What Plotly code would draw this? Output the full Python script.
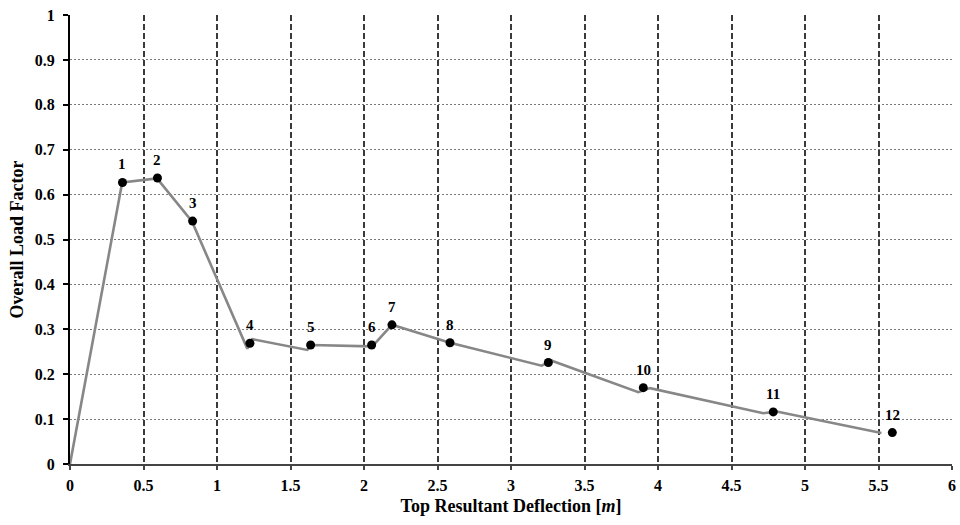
import plotly.graph_objects as go

# Curve (load–deflection path)
curve_x = [0, 0.355, 0.592, 0.83, 1.206, 1.240, 1.614, 1.644, 2.045, 2.07, 2.14, 2.19,
           2.585, 3.208, 3.277, 3.866, 3.946, 4.716, 4.807, 5.52]
curve_y = [0, 0.627, 0.636, 0.54, 0.257, 0.278, 0.254, 0.265, 0.262, 0.267, 0.292, 0.31,
           0.27, 0.219, 0.230, 0.160, 0.169, 0.113, 0.117, 0.069]

# Labelled points
pt_x = [0.357, 0.595, 0.834, 1.224, 1.637, 2.052, 2.19, 2.585, 3.254, 3.90, 4.784, 5.594]
pt_y = [0.627, 0.637, 0.541, 0.269, 0.265, 0.265, 0.31, 0.270, 0.226, 0.170, 0.116, 0.070]
pt_labels = [str(i) for i in range(1, 13)]

x_ticks = [0, 0.5, 1, 1.5, 2, 2.5, 3, 3.5, 4, 4.5, 5, 5.5, 6]
y_ticks = [0, 0.1, 0.2, 0.3, 0.4, 0.5, 0.6, 0.7, 0.8, 0.9, 1]

FONT = "Liberation Serif"

fig = go.Figure()
fig.add_trace(go.Scatter(x=curve_x, y=curve_y, mode="lines",
                         line=dict(color="#878787", width=2.6), hoverinfo="skip"))
fig.add_trace(go.Scatter(x=pt_x, y=pt_y, mode="markers",
                         marker=dict(color="black", size=9)))

for xv, yv, t in zip(pt_x, pt_y, pt_labels):
    fig.add_annotation(x=xv, y=yv, text=t, showarrow=False, yshift=18,
                       xanchor="center", yanchor="middle",
                       font=dict(family=FONT, size=15, color="black", weight="bold"))

fig.update_layout(
    width=960, height=525,
    margin=dict(l=70, r=4, t=15, b=61),
    paper_bgcolor="white", plot_bgcolor="white",
    showlegend=False,
    font=dict(family=FONT, color="black", size=16, weight="bold"),
)
fig.update_xaxes(
    range=[0, 6], tickvals=x_ticks, ticktext=[f"{v:g}" for v in x_ticks],
    showgrid=True, gridcolor="#3a3a3a", gridwidth=1.5, griddash="6px,3px",
    showline=True, linecolor="#444444", linewidth=2,
    ticks="outside", ticklen=4, tickcolor="#444444", tickwidth=1.5,
    ticklabelstandoff=2,
    zeroline=False,
    tickfont=dict(family=FONT, size=16, weight="bold"),
    title=dict(text="Top Resultant Deflection [<i>m</i>]", standoff=6,
               font=dict(family=FONT, size=18, weight="bold")),
)
fig.update_yaxes(
    range=[0, 1], tickvals=y_ticks, ticktext=[f"{v:g}" for v in y_ticks],
    showgrid=True, gridcolor="#7a7a7a", gridwidth=1, griddash="2px,2px",
    showline=True, linecolor="black", linewidth=2,
    ticks="outside", ticklen=5, tickcolor="black", tickwidth=1.5,
    ticklabelstandoff=5,
    zeroline=False,
    tickfont=dict(family=FONT, size=16, weight="bold"),
    title=dict(text="Overall Load Factor", standoff=6,
               font=dict(family=FONT, size=18, weight="bold")),
)

fig.write_html("out.html")
